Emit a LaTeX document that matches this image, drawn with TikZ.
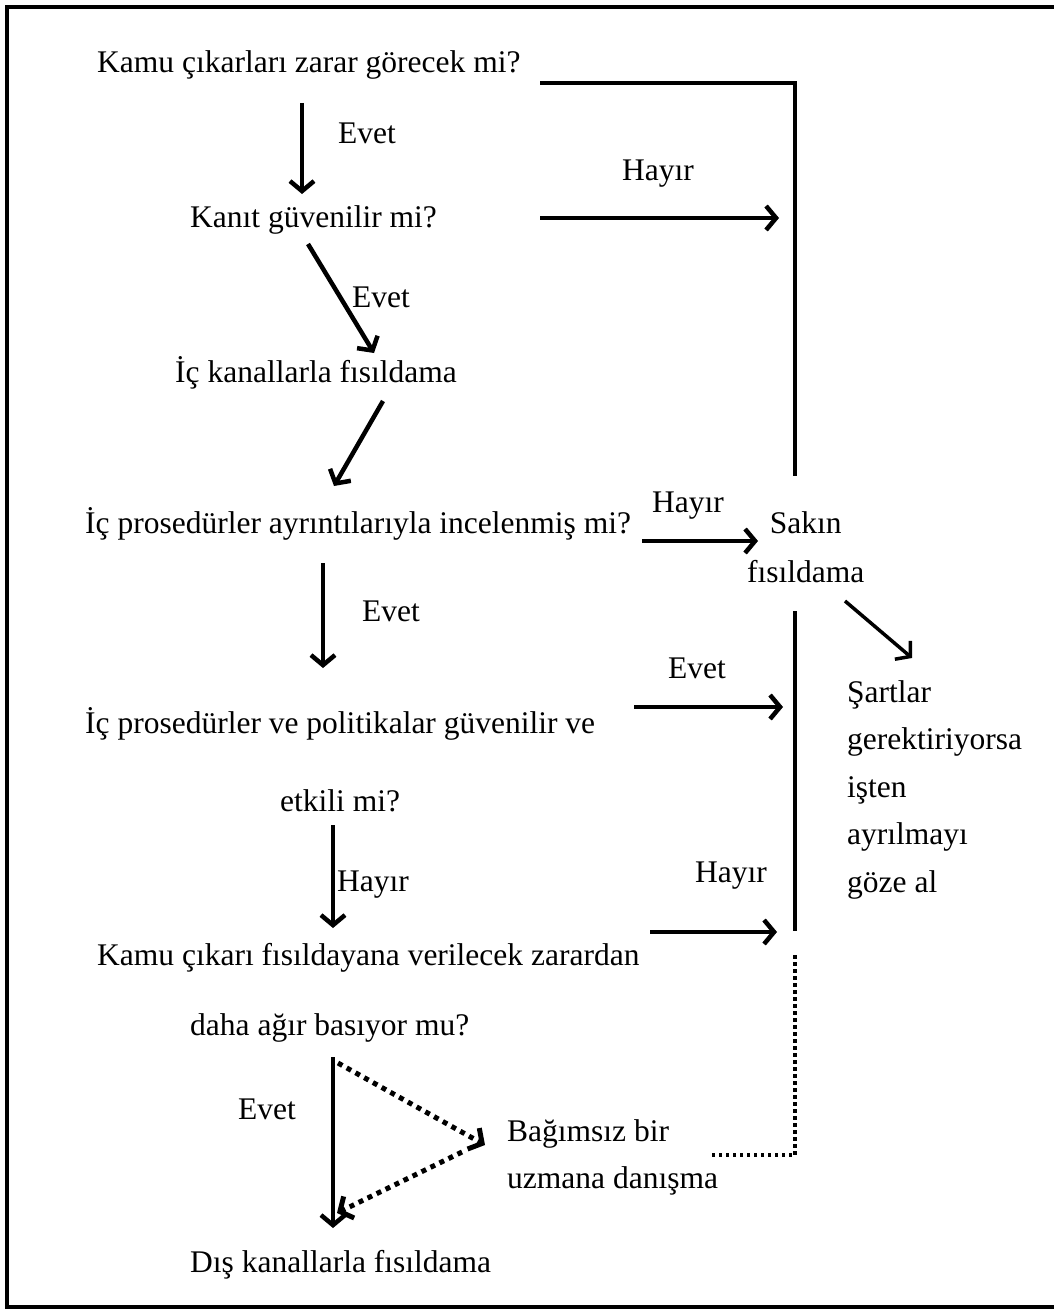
\documentclass[tikz,border=0pt]{standalone}
\usepackage{fontspec}
\setmainfont{Liberation Serif}
\usetikzlibrary{arrows.meta}

\begin{document}
\begin{tikzpicture}[x=1pt,y=-1pt,
  txt/.style={anchor=base west, inner sep=0pt, font=\fontsize{31.5}{47.5}\selectfont},
  flow/.style={line width=4.5pt, -{Straight Barb[length=10pt,width=24pt]}},
  bar/.style={line width=4pt},
  dotflow/.style={line width=5pt, dash pattern=on 5pt off 5pt, -{Straight Barb[length=10pt,width=24pt]}},
  dotline/.style={line width=3.5pt, dash pattern=on 3.5pt off 3.5pt}]

\useasboundingbox (0,0) rectangle (1054,1311);
\fill[white] (0,0) rectangle (1054,1311);

% outer frame (right edge runs off the page)
\draw[line width=4pt] (1070,7) -- (7,7) -- (7,1307) -- (1070,1307);

% questions and actions down the left column
\node[txt] (q1) at (97,73)  {Kamu çıkarları zarar görecek mi?};
\node[txt] (q2) at (190,227) {Kanıt güvenilir mi?};
\node[txt] (a1) at (175,382) {İç kanallarla fısıldama};
\node[txt] (q3) at (85,533) {İç prosedürler ayrıntılarıyla incelenmiş mi?};
\node[txt] (q4) at (85,733) {İç prosedürler ve politikalar güvenilir ve};
\node[txt] (q4b) at (280,811) {etkili mi?};
\node[txt] (q5) at (97,965) {Kamu çıkarı fısıldayana verilecek zarardan};
\node[txt] (q5b) at (190,1035) {daha ağır basıyor mu?};
\node[txt] (a3) at (190,1272) {Dış kanallarla fısıldama};

% outcomes on the right (base anchor sits on the last line)
\node[txt, align=center, font=\fontsize{31.5}{49}\selectfont] (dont) at (747,582) {Sakın\\fısıldama};
\node[txt, align=left] (quit) at (847,892) {Şartlar\\gerektiriyorsa\\işten\\ayrılmayı\\göze al};
\node[txt, align=left, font=\fontsize{31.5}{46.5}\selectfont] (exp) at (507,1188) {Bağımsız bir\\uzmana danışma};

% branch labels
\node[txt] (l1) at (338,143) {Evet};
\node[txt] (l2) at (622,180) {Hayır};
\node[txt] (l3) at (352,307) {Evet};
\node[txt] (l4) at (652,512) {Hayır};
\node[txt] (l5) at (362,621) {Evet};
\node[txt] (l6) at (668,678) {Evet};
\node[txt] (l7) at (337,891) {Hayır};
\node[txt] (l8) at (695,882) {Hayır};
\node[txt] (l9) at (238,1119) {Evet};

% connector end points
\coordinate (c1s) at (302,103);  \coordinate (c1e) at (302,194);
\coordinate (c2s) at (540,218);  \coordinate (c2e) at (779,218);
\coordinate (c3s) at (308,244);  \coordinate (c3e) at (374,353);
\coordinate (c4s) at (383,401);  \coordinate (c4e) at (334,486);
\coordinate (c5s) at (642,541);  \coordinate (c5e) at (758,541);
\coordinate (c6s) at (323,563);  \coordinate (c6e) at (323,668);
\coordinate (c7s) at (634,707);  \coordinate (c7e) at (783,707);
\coordinate (c8s) at (333,825);  \coordinate (c8e) at (333,928);
\coordinate (c9s) at (650,932);  \coordinate (c9e) at (777,932);
\coordinate (c10s) at (333,1057); \coordinate (c10e) at (333,1228);
\coordinate (d1s) at (338,1063); \coordinate (d1e) at (485,1145);
\coordinate (d2s) at (462,1152); \coordinate (d2e) at (337,1213);
\coordinate (s1) at (845,601);   \coordinate (s1e) at (912,658);
\coordinate (topL) at (540,83);  \coordinate (topR) at (795,83);
\coordinate (spineT) at (795,476);
\coordinate (spine2T) at (795,611); \coordinate (spine2B) at (795,931);
\coordinate (dotT) at (795,955); \coordinate (dotC) at (795,1155);
\coordinate (dotE) at (709,1155);

% solid connectors
\draw[bar] (topL) -- (topR) -- (spineT);
\draw[bar] (spine2T) -- (spine2B);
\draw[flow] (c1s) -- (c1e);
\draw[flow] (c2s) -- (c2e);
\draw[flow] (c3s) -- (c3e);
\draw[flow] (c4s) -- (c4e);
\draw[flow] (c5s) -- (c5e);
\draw[flow] (c6s) -- (c6e);
\draw[flow] (c7s) -- (c7e);
\draw[flow] (c8s) -- (c8e);
\draw[flow] (c9s) -- (c9e);
\draw[flow] (c10s) -- (c10e);
\draw[flow, line width=3.5pt] (s1) -- (s1e);

% dotted connectors through the expert
\draw[dotflow] (d1s) -- (d1e);
\draw[dotflow] (d2s) -- (d2e);
\draw[dotline] (dotT) -- (dotC) -- (dotE);

\end{tikzpicture}
\end{document}
